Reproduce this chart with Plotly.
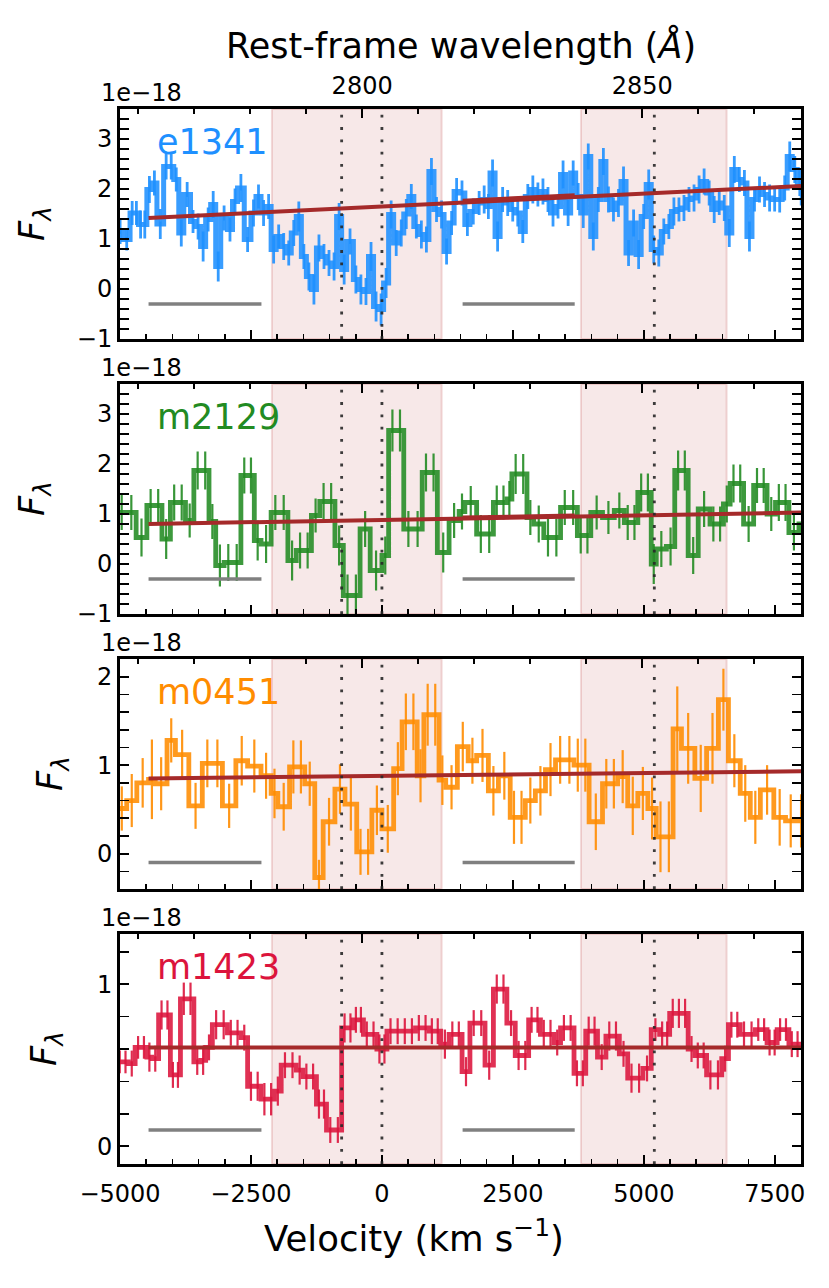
import plotly.graph_objects as go

C_KMS = 299792.458
LAM0 = 2803.53

names = ["e1341", "m2129", "m0451", "m1423"]
colors = ["#1E90FF", "#228B22", "#FF8C00", "#DC143C"]
colors_rgb = [(30, 144, 255), (34, 139, 34), (255, 140, 0), (220, 20, 60)]

# ---------------- e1341 ----------------
p1_edges = [-5060, -4936, -4808, -4647, -4487, -4391, -4295, -4167, -3974, -3878,
            -3782, -3654, -3558, -3461, -3365, -3269, -3173, -3077, -2949, -2852,
            -2756, -2628, -2500, -2404, -2308, -2211, -2115, -2019, -1923, -1827,
            -1731, -1635, -1538, -1442, -1346, -1250, -1154, -1058, -962, -865,
            -769, -673, -545, -449, -353, -256, -160, -64, 32, 128,
            224, 321, 417, 513, 609, 705, 801, 897, 994, 1090,
            1186, 1282, 1378, 1474, 1583, 1680, 1808, 1904, 2000, 2064,
            2160, 2256, 2353, 2449, 2545, 2641, 2737, 2833, 2929, 3026,
            3122, 3218, 3314, 3410, 3506, 3603, 3699, 3795, 3891, 3987,
            4083, 4179, 4276, 4372, 4468, 4564, 4660, 4756, 4852, 4949,
            5045, 5141, 5237, 5333, 5429, 5526, 5622, 5718, 5814, 5910,
            6006, 6102, 6199, 6295, 6391, 6487, 6583, 6679, 6775, 6872,
            6968, 7064, 7160, 7256, 7352, 7449, 7545, 7641, 7737, 7833,
            7929, 8025, 8100]
p1_flux = [1.15, 0.99, 1.52, 1.29, 1.99, 2.12, 1.30, 2.45, 2.19, 1.12,
           1.89, 1.35, 1.25, 0.85, 1.39, 1.69, 0.45, 1.42, 1.19, 1.75,
           2.02, 0.99, 1.52, 1.85, 1.52, 1.65, 0.79, 1.05, 0.85, 0.72,
           1.12, 1.45, 0.65, 0.25, -0.01, 0.82, 0.65, 0.52, 0.45, 1.45,
           0.39, 0.95, 0.19, -0.01, -0.05, 0.65, -0.35, -0.41, 0.12, 1.49,
           0.92, 1.12, 1.50, 1.85, 1.25, 1.09, 0.99, 2.35, 1.59, 1.49,
           0.75, 1.32, 1.95, 1.92, 1.29, 1.55, 1.72, 1.79, 1.65, 2.32,
           1.05, 1.79, 1.72, 1.59, 1.52, 1.15, 1.85, 1.99, 1.89, 1.95,
           1.79, 1.52, 1.65, 2.29, 1.52, 2.32, 1.85, 1.52, 2.65, 1.05,
           1.79, 2.55, 1.79, 1.59, 1.72, 2.15, 0.72, 1.32, 0.69, 1.45,
           2.09, 0.79, 0.72, 1.15, 1.25, 1.55, 1.59, 1.62, 1.79, 1.82,
           1.99, 2.15, 1.92, 1.59, 1.72, 1.62, 1.12, 2.39, 2.19, 2.12,
           1.05, 1.79, 1.99, 1.89, 1.82, 1.79, 1.79, 2.02, 2.65, 2.39,
           2.12, 1.72]
p1_err = [0.25, 0.22, 0.24, 0.28, 0.27, 0.25, 0.30, 0.26, 0.24, 0.27, 0.25, 0.23,
          0.26, 0.30, 0.24, 0.27, 0.30, 0.25, 0.24, 0.26, 0.28, 0.25, 0.27, 0.24,
          0.26, 0.25, 0.28, 0.24, 0.27, 0.25, 0.26, 0.30, 0.25, 0.28, 0.30, 0.27,
          0.25, 0.26, 0.28, 0.27, 0.30, 0.26, 0.28, 0.30, 0.27, 0.29, 0.30, 0.32,
          0.30, 0.28, 0.26, 0.27, 0.30, 0.25, 0.24, 0.28, 0.26, 0.27, 0.25, 0.28,
          0.26, 0.24, 0.27, 0.25, 0.23, 0.26, 0.24, 0.28, 0.25, 0.27, 0.30, 0.25,
          0.26, 0.24, 0.27, 0.23, 0.25, 0.28, 0.24, 0.26, 0.25, 0.27, 0.24, 0.28,
          0.26, 0.25, 0.27, 0.30, 0.26, 0.28, 0.25, 0.27, 0.26, 0.24, 0.28, 0.30,
          0.26, 0.27, 0.29, 0.25, 0.30, 0.28, 0.27, 0.26, 0.25, 0.28, 0.24, 0.26,
          0.25, 0.27, 0.28, 0.26, 0.25, 0.27, 0.24, 0.26, 0.28, 0.27, 0.25, 0.26,
          0.30, 0.24, 0.26, 0.25, 0.27, 0.24, 0.26, 0.25, 0.30, 0.27, 0.26, 0.25]

# ---------------- m2129 ----------------
p2_edges = [-5060, -4692, -4487, -4199, -4038, -3750, -3590, -3301, -3173, -3013,
            -2692, -2436, -2308, -2115, -1795, -1635, -1346, -1186, -897, -737,
            -417, -224, 0, 128, 417, 769, 1058, 1282, 1474, 1583,
            1808, 2128, 2385, 2481, 2769, 2897, 3090, 3410, 3731, 3987,
            4211, 4436, 4628, 4885, 5141, 5237, 5430, 5590, 5846, 6038,
            6263, 6519, 6647, 6904, 7096, 7352, 7513, 7769, 7961, 8100]
p2_flux = [1.03, 0.53, 1.17, 0.50, 1.23, 0.87, 1.87, 0.85, -0.03, 0.03,
           1.77, 0.47, 0.40, 1.03, 0.07, 0.27, 0.97, 1.25, 0.37, -0.63,
           0.70, -0.13, 0.17, 2.67, 0.70, 1.83, 0.23, 0.87, 1.05, 1.23,
           0.60, 1.23, 1.30, 1.80, 0.93, 0.80, 0.53, 1.13, 0.57, 1.03,
           0.93, 1.07, 0.83, 1.43, 0.00, 0.30, 0.35, 1.87, 0.17, 1.10,
           0.80, 1.20, 1.61, 0.80, 1.57, 1.00, 1.23, 0.63, 0.80]
p2_err = [0.35, 0.38, 0.33, 0.40, 0.36, 0.34, 0.38, 0.35, 0.42, 0.37,
          0.36, 0.40, 0.38, 0.35, 0.40, 0.36, 0.34, 0.37, 0.40, 0.42,
          0.36, 0.40, 0.38, 0.42, 0.36, 0.38, 0.40, 0.35, 0.36, 0.33,
          0.38, 0.34, 0.36, 0.40, 0.35, 0.37, 0.38, 0.35, 0.36, 0.34,
          0.33, 0.36, 0.35, 0.38, 0.40, 0.36, 0.38, 0.40, 0.37, 0.36,
          0.35, 0.37, 0.38, 0.36, 0.35, 0.34, 0.37, 0.36, 0.38]

# ---------------- m0451 ----------------
p3_edges = [-5060, -4872, -4679, -4455, -4327, -4102, -3942, -3686, -3429, -3045,
            -2788, -2564, -2308, -2115, -1987, -1763, -1474, -1282, -1122, -897,
            -705, -481, -192, 0, 224, 385, 673, 801, 1090, 1218,
            1440, 1647, 1808, 2032, 2224, 2449, 2737, 2929, 3122, 3314,
            3667, 3955, 4211, 4500, 4692, 4885, 5077, 5237, 5558, 5718,
            5974, 6198, 6423, 6615, 6840, 7032, 7224, 7481, 7705, 8100]
p3_flux = [0.51, 0.60, 0.80, 0.84, 0.79, 1.28, 1.12, 0.54, 1.02, 0.54,
           1.05, 0.99, 0.88, 0.68, 0.53, 0.98, 0.79, -0.27, 0.36, 0.73,
           0.56, 0.02, 0.49, 0.28, 0.96, 1.49, 0.88, 1.57, 0.83, 0.75,
           1.21, 1.05, 1.11, 0.71, 0.88, 0.41, 0.60, 0.71, 0.95, 1.06,
           1.00, 0.36, 0.79, 0.87, 0.54, 0.68, 0.51, 0.19, 1.41, 1.19,
           0.85, 1.19, 1.74, 1.05, 0.68, 0.41, 0.72, 0.41, 0.37]
p3_err = [0.25, 0.30, 0.28, 0.45, 0.30, 0.25, 0.28, 0.26, 0.27, 0.25,
          0.28, 0.30, 0.26, 0.28, 0.27, 0.30, 0.25, 0.20, 0.27, 0.28,
          0.30, 0.26, 0.28, 0.27, 0.30, 0.32, 0.30, 0.35, 0.28, 0.25,
          0.28, 0.26, 0.30, 0.28, 0.27, 0.30, 0.26, 0.28, 0.30, 0.27,
          0.30, 0.32, 0.28, 0.30, 0.33, 0.30, 0.35, 0.40, 0.48, 0.40,
          0.38, 0.40, 0.35, 0.30, 0.32, 0.30, 0.28, 0.32, 0.30]

# ---------------- m1423 ----------------
p4_edges = [-5060, -4840, -4711, -4487, -4391, -4263, -4038, -3846, -3590, -3461,
            -3365, -3237, -2949, -2692, -2564, -2308, -2051, -1923, -1635, -1506,
            -1250, -1058, -769, -545, -353, -96, 96, 641, 897, 1122,
            1282, 1530, 1680, 1968, 2128, 2385, 2545, 2801, 3026, 3282,
            3410, 3667, 3891, 4115, 4276, 4532, 4692, 4981, 5141, 5301,
            5493, 5846, 5974, 6198, 6487, 6615, 6840, 7128, 7352, 7545,
            7769, 8100]
p4_flux = [0.52, 0.51, 0.61, 0.55, 0.54, 0.81, 0.44, 0.91, 0.52, 0.53,
           0.61, 0.75, 0.70, 0.67, 0.37, 0.29, 0.34, 0.50, 0.47, 0.43,
           0.26, 0.10, 0.73, 0.78, 0.69, 0.60, 0.71, 0.73, 0.71, 0.63,
           0.69, 0.46, 0.76, 0.50, 0.97, 0.76, 0.56, 0.78, 0.69, 0.64,
           0.73, 0.45, 0.71, 0.55, 0.68, 0.57, 0.42, 0.48, 0.72, 0.69,
           0.82, 0.60, 0.56, 0.44, 0.54, 0.75, 0.69, 0.72, 0.64, 0.72,
           0.63]
p4_err = [0.07, 0.08, 0.07, 0.09, 0.08, 0.09, 0.08, 0.10, 0.08, 0.09,
          0.08, 0.09, 0.08, 0.08, 0.09, 0.10, 0.09, 0.08, 0.09, 0.08,
          0.09, 0.08, 0.09, 0.08, 0.08, 0.09, 0.08, 0.08, 0.08, 0.09,
          0.08, 0.09, 0.08, 0.09, 0.09, 0.08, 0.09, 0.08, 0.09, 0.08,
          0.08, 0.08, 0.09, 0.08, 0.09, 0.08, 0.09, 0.08, 0.07, 0.08,
          0.09, 0.08, 0.08, 0.09, 0.08, 0.08, 0.08, 0.07, 0.08, 0.07,
          0.08]

# continuum fits (velocity, flux) and local window segments
cont_x = [[-4455, 8000], [-4455, 8000], [-4455, 8000], [-4455, 8000]]
cont_y = [[1.42, 2.06], [0.80, 1.03], [0.85, 0.93], [0.61, 0.61]]
cont_seg_x = [[1540, 3680], [1540, 3680], None, None]
cont_seg_y = [[1.765, 1.875], [0.93, 0.97], None, None]

edges_all = [p1_edges, p2_edges, p3_edges, p4_edges]
flux_all = [p1_flux, p2_flux, p3_flux, p4_flux]
err_all = [p1_err, p2_err, p3_err, p4_err]
bin_width = [96, 160, 190, 128]

vel_range = [-5000, 8000]
vel_tickvals = [-5000, -2500, 0, 2500, 5000, 7500]
vel_ticktext = ["\u22125000", "\u22122500", "0", "2500", "5000", "7500"]
wave_tickvals = [2800, 2850]
wave_ticktext = ["2800", "2850"]
y_ranges = [[-1.0, 3.6], [-1.0, 3.6], [-0.4, 2.2], [-0.11, 1.31]]
y_tickvals = [[-1, 0, 1, 2, 3], [-1, 0, 1, 2, 3], [0, 1, 2], [0, 1]]
y_ticktext = [["\u22121", "0", "1", "2", "3"], ["\u22121", "0", "1", "2", "3"],
              ["0", "1", "2"], ["0", "1"]]
shade_regions = [[-2100, 1140], [3800, 6580]]
line_vels = [-769, 0, 5200]
cont_windows = [[-4455, -2300], [1540, 3680]]
window_y = [-0.3, -0.3, -0.1, 0.1]

# ---------------- geometry / style ----------------
W, H = 829, 1288
PX0, PX1 = 120, 801
panel_top = [109, 384, 659, 934]
PANEL_H = 230
ylabel_x = [34, 34, 52, 46]
FONT = "DejaVu Sans"
TICK_FS = 24
step_width = [5.0, 4.8, 4.8, 4.8]
err_width = [2.8, 2.2, 2.2, 2.2]


def rgba(rgb, a):
    return "rgba(%d,%d,%d,%.2f)" % (rgb[0], rgb[1], rgb[2], a)


lam_lo = LAM0 * (1 + vel_range[0] / C_KMS)
lam_hi = LAM0 * (1 + vel_range[1] / C_KMS)

fig = go.Figure()
shapes = []
annotations = []
layout_axes = {}

for i in range(4):
    n = i + 1
    xb = "x" if n == 1 else "x%d" % n
    yb = "y" if n == 1 else "y%d" % n
    xt = "x%d" % (n + 4)
    e = edges_all[i]
    f = flux_all[i]
    s = err_all[i]
    col = colors_rgb[i]

    # step spectrum
    fig.add_trace(go.Scatter(
        x=e, y=f + [f[-1]], mode="lines",
        line=dict(shape="hv", color=rgba(col, 0.88), width=step_width[i]),
        xaxis=xb, yaxis=yb, hoverinfo="skip", showlegend=False))

    # error bars at bin centres
    cx, cy, ce = [], [], []
    for k in range(len(f)):
        w = e[k + 1] - e[k]
        m = max(1, int(round(w / bin_width[i])))
        for j in range(m):
            cx.append(e[k] + (j + 0.5) * w / m)
            cy.append(f[k])
            ce.append(s[k])
    fig.add_trace(go.Scatter(
        x=cx, y=cy, mode="markers",
        marker=dict(size=2, color="rgba(0,0,0,0)"),
        error_y=dict(type="data", array=ce, visible=True, color=rgba(col, 0.9),
                     thickness=err_width[i], width=0),
        xaxis=xb, yaxis=yb, hoverinfo="skip", showlegend=False))

    # continuum
    fig.add_trace(go.Scatter(
        x=cont_x[i], y=cont_y[i], mode="lines",
        line=dict(color="#A52A2A", width=4),
        xaxis=xb, yaxis=yb, hoverinfo="skip", showlegend=False))
    if cont_seg_x[i] is not None:
        fig.add_trace(go.Scatter(
            x=cont_seg_x[i], y=cont_seg_y[i], mode="lines",
            line=dict(color="#A52A2A", width=4),
            xaxis=xb, yaxis=yb, hoverinfo="skip", showlegend=False))

    # invisible trace for top wavelength axis
    fig.add_trace(go.Scatter(
        x=[lam_lo, lam_hi], y=[y_ranges[i][0], y_ranges[i][0]], mode="markers",
        marker=dict(size=1, color="rgba(0,0,0,0)"),
        xaxis=xt, yaxis=yb, hoverinfo="skip", showlegend=False))

    # shaded regions
    for a, b in shade_regions:
        shapes.append(dict(type="rect", xref=xb, yref=yb + " domain", x0=a, x1=b, y0=0, y1=1,
                           fillcolor="rgba(178,34,34,0.10)",
                           line=dict(color="rgba(178,34,34,0.16)", width=2), layer="below"))
    # dotted line markers
    for v in line_vels:
        shapes.append(dict(type="line", xref=xb, yref=yb + " domain", x0=v, x1=v, y0=0, y1=1,
                           line=dict(color="rgba(40,40,40,0.9)", width=2.8, dash="2.8px,9.5px"),
                           layer="above"))
    # continuum windows
    for a, b in cont_windows:
        shapes.append(dict(type="line", xref=xb, yref=yb, x0=a, x1=b,
                           y0=window_y[i], y1=window_y[i],
                           line=dict(color="#808080", width=3.5), layer="above"))

    top = panel_top[i]
    dom = [1 - (top + PANEL_H) / H, 1 - top / H]

    xkey = "xaxis" if n == 1 else "xaxis%d" % n
    ykey = "yaxis" if n == 1 else "yaxis%d" % n
    layout_axes[xkey] = dict(
        domain=[PX0 / W, PX1 / W], range=vel_range, anchor=yb, automargin=False,
        tickmode="array", tickvals=vel_tickvals, ticktext=vel_ticktext,
        showticklabels=(i == 3), ticks="inside", ticklen=9, tickwidth=2, tickcolor="black",
        minor=dict(dtick=500, tick0=0, ticks="inside", ticklen=5, tickwidth=1.6,
                   tickcolor="black", showgrid=False),
        showline=True, linewidth=3, linecolor="black", mirror=True,
        showgrid=False, zeroline=False, tickfont=dict(size=TICK_FS, color="black"),
        ticklabelstandoff=6)
    layout_axes[ykey] = dict(
        domain=dom, range=y_ranges[i], anchor=xb, automargin=False,
        tickmode="array", tickvals=y_tickvals[i], ticktext=y_ticktext[i],
        ticks="inside", ticklen=9, tickwidth=2, tickcolor="black",
        minor=dict(dtick=0.2, tick0=0, ticks="inside", ticklen=5, tickwidth=1.6,
                   tickcolor="black", showgrid=False),
        showline=True, linewidth=3, linecolor="black", mirror="allticks",
        showgrid=False, zeroline=False, tickfont=dict(size=TICK_FS, color="black"))
    layout_axes["xaxis%d" % (n + 4)] = dict(
        overlaying=xb, side="top", anchor=yb, range=[lam_lo, lam_hi], automargin=False,
        tickmode="array", tickvals=wave_tickvals, ticktext=wave_ticktext,
        showticklabels=(i == 0), ticks="inside", ticklen=9, tickwidth=2, tickcolor="black",
        minor=dict(dtick=10, tick0=2800, ticks="inside", ticklen=5, tickwidth=1.6,
                   tickcolor="black", showgrid=False),
        showline=False, showgrid=False, zeroline=False,
        tickfont=dict(size=TICK_FS, color="black"), ticklabelstandoff=9)

    # panel name
    annotations.append(dict(text=names[i], x=155 / W, y=1 - (top + 33) / H,
                            xref="paper", yref="paper", xanchor="left", yanchor="middle",
                            showarrow=False, font=dict(size=35, color=colors[i])))
    # offset text
    annotations.append(dict(text="1e\u221218", x=99 / W, y=1 - (top - 16) / H,
                            xref="paper", yref="paper", xanchor="left", yanchor="middle",
                            showarrow=False, font=dict(size=TICK_FS, color="black")))
    # y label
    annotations.append(dict(text="<i>F</i><sub><i>\u03bb</i></sub>", x=ylabel_x[i] / W,
                            y=1 - (top + PANEL_H / 2) / H, xref="paper", yref="paper",
                            xanchor="center", yanchor="middle", textangle=-90,
                            showarrow=False, font=dict(size=35, color="black")))

annotations.append(dict(text="Rest-frame wavelength (<i>\u00c5</i>)", x=460.5 / W, y=1 - 45 / H,
                        xref="paper", yref="paper", xanchor="center", yanchor="middle",
                        showarrow=False, font=dict(size=35, color="black")))
annotations.append(dict(text="Velocity (km s<sup>\u22121</sup>)", x=414 / W, y=1 - 1236 / H,
                        xref="paper", yref="paper", xanchor="center", yanchor="middle",
                        showarrow=False, font=dict(size=35.5, color="black")))

fig.update_layout(
    width=W, height=H, margin=dict(l=0, r=0, t=0, b=0, pad=0),
    paper_bgcolor="white", plot_bgcolor="white",
    font=dict(family=FONT, color="black"),
    showlegend=False, shapes=shapes, annotations=annotations,
    **layout_axes)

fig.write_html("out.html", config={"displayModeBar": False, "staticPlot": True},
               post_script="document.body.style.margin='0';document.body.style.padding='0';")
